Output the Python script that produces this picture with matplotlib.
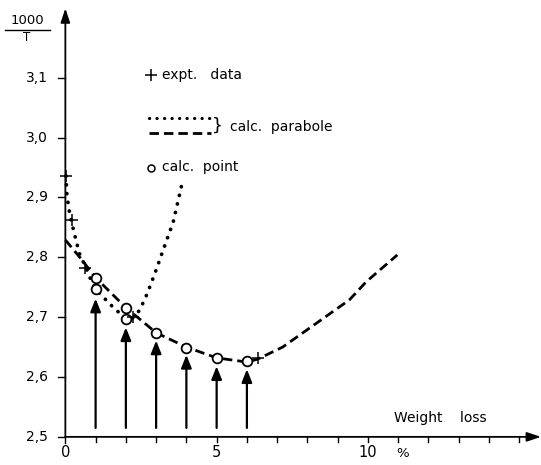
import matplotlib
matplotlib.use('Agg')
import matplotlib.pyplot as plt
import numpy as np

# experimental data (+)
expt_x = [0.02, 0.21, 0.64, 2.22, 6.36]
expt_y = [2.936, 2.863, 2.783, 2.700, 2.631]

# calculated points (o)
calc_x = [1, 1, 2, 2, 3, 4, 5, 6]
calc_y = [2.766, 2.747, 2.716, 2.697, 2.674, 2.649, 2.631, 2.626]

# arrows under the calculated points
arrow_x = [1, 2, 3, 4, 5, 6]
arrow_top = [2.731, 2.683, 2.661, 2.637, 2.618, 2.613]
arrow_base = 2.515

# dotted parabola
dot_x = [0.02, 0.05, 0.12, 0.21, 0.35, 0.48, 0.68, 0.87, 1.0, 1.47,
         2.0, 2.23, 2.46, 2.72, 3.0, 3.35, 3.56, 3.87]
dot_y = [2.936, 2.905, 2.880, 2.858, 2.829, 2.804, 2.783, 2.759, 2.747,
         2.722, 2.697, 2.699, 2.712, 2.741, 2.779, 2.829, 2.858, 2.926]

# dashed parabola
dash_x = [0.0, 0.48, 1.0, 2.0, 3.0, 4.0, 5.0, 6.0, 6.36, 7.18, 8.3,
          9.39, 9.94, 10.97]
dash_y = [2.829, 2.800, 2.766, 2.716, 2.674, 2.650, 2.632, 2.625, 2.630,
          2.650, 2.690, 2.729, 2.759, 2.804]

ytick_vals = [2.5, 2.6, 2.7, 2.8, 2.9, 3.0, 3.1]
ytick_labels = ['2,5', '2,6', '2,7', '2,8', '2,9', '3,0', '3,1']
xtick_vals = [0, 5, 10]
xtick_labels = ['0', '5', '10']

DOTS = (0, (0.05, 2.3))
DASHES = (0, (3.4, 1.8))


def main():
    plt.rcParams['font.family'] = 'DejaVu Sans'
    fig = plt.figure(figsize=(5.41, 4.65), dpi=100)
    ax = fig.add_axes([0, 0, 1, 1])
    ax.set_xlim(-2.16, 15.72)
    ax.set_ylim(2.453, 3.23)
    ax.axis('off')

    fs = 9.5
    axis_arrow = dict(arrowstyle='-|>,head_width=0.2,head_length=0.6',
                      color='black', lw=1.3, mutation_scale=14,
                      shrinkA=0, shrinkB=0)
    # axes with arrow heads
    ax.annotate('', xy=(0, 3.216), xytext=(0, 2.5), arrowprops=axis_arrow)
    ax.annotate('', xy=(15.72, 2.5), xytext=(0, 2.5), arrowprops=axis_arrow)

    # y ticks and labels
    for v, lab in zip(ytick_vals, ytick_labels):
        ax.plot([-0.25, 0], [v, v], color='black', lw=1)
        ax.text(-0.94, v, lab, ha='center', va='center', fontsize=fs + 0.5)
    # x ticks and labels
    for v in range(1, 16):
        ax.plot([v, v], [2.5, 2.492], color='black', lw=1)
    ax.plot([0, 0], [2.5, 2.49], color='black', lw=1)
    for v, lab in zip(xtick_vals, xtick_labels):
        ax.text(v, 2.474, lab, ha='center', va='center', fontsize=fs + 1)
    ax.text(11.15, 2.473, '%', ha='center', va='center', fontsize=fs)
    ax.text(12.4, 2.532, 'Weight    loss', ha='center', va='center',
            fontsize=fs + 0.5)

    # y axis title 1000/T
    ax.text(-1.25, 3.196, '1000', ha='center', va='center', fontsize=fs)
    ax.plot([-2.0, -0.5], [3.18, 3.18], color='black', lw=1)
    ax.text(-1.27, 3.168, 'T', ha='center', va='center', fontsize=fs - 1)

    # curves
    ax.plot(dot_x, dot_y, color='black', lw=2.7, linestyle=DOTS,
            dash_capstyle='round')
    ax.plot(dash_x, dash_y, color='black', lw=2.0, linestyle=DASHES)

    # arrows up to the calculated points
    for x, top in zip(arrow_x, arrow_top):
        ax.annotate('', xy=(x, top), xytext=(x, arrow_base),
                    arrowprops=dict(
                        arrowstyle='-|>,head_width=0.22,head_length=0.55',
                        color='black', lw=1.6, mutation_scale=14,
                        shrinkA=0, shrinkB=0))

    ax.plot(calc_x, calc_y, 'o', ms=7, mfc='white', mec='black', mew=1.3,
            zorder=5)
    ax.plot(expt_x, expt_y, '+', ms=9, mec='black', mew=1.1, zorder=6)

    # legend
    ax.plot([2.82], [3.105], '+', ms=8, mec='black', mew=1.1)
    ax.text(3.2, 3.105, 'expt.   data', ha='left', va='center',
            fontsize=fs + 0.5)
    ax.plot([2.75, 4.8], [3.032, 3.032], color='black', lw=2.3,
            linestyle=DOTS, dash_capstyle='round')
    ax.plot([2.75, 4.8], [3.008, 3.008], color='black', lw=2.0,
            linestyle=DASHES)
    ax.text(4.85, 3.02, '}', ha='left', va='center', fontsize=fs + 3)
    ax.text(5.45, 3.018, 'calc.  parabole', ha='left', va='center',
            fontsize=fs + 0.5)
    ax.plot([2.82], [2.949], 'o', ms=5, mfc='white', mec='black', mew=1.1)
    ax.text(3.2, 2.951, 'calc.  point', ha='left', va='center',
            fontsize=fs + 0.5)

    fig.savefig('out.png', dpi=100)


if __name__ == '__main__':
    main()
